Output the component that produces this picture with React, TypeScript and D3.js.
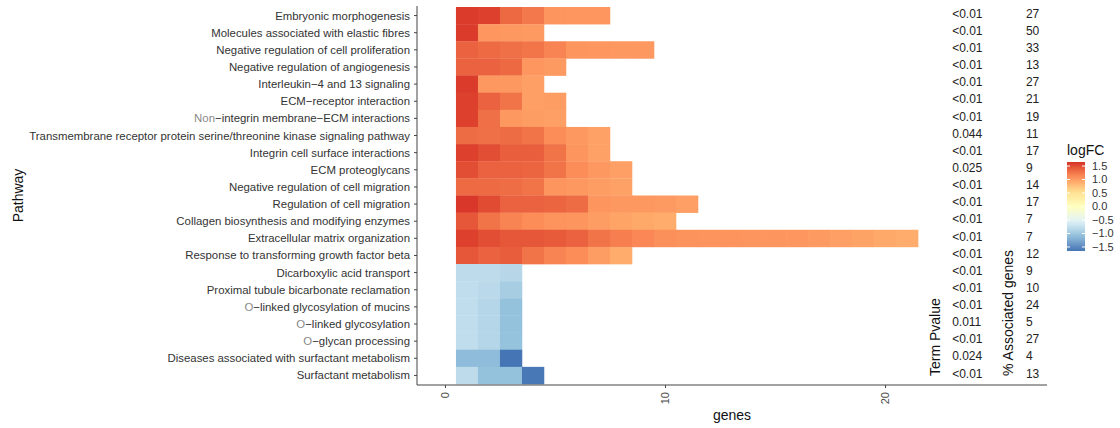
import { useRef, useEffect } from "react";
import * as d3 from "d3";

// pathways, top to bottom
const pathways = [
  "Embryonic morphogenesis",
  "Molecules associated with elastic fibres",
  "Negative regulation of cell proliferation",
  "Negative regulation of angiogenesis",
  "Interleukin−4 and 13 signaling",
  "ECM−receptor interaction",
  "Non−integrin membrane−ECM interactions",
  "Transmembrane receptor protein serine/threonine kinase signaling pathway",
  "Integrin cell surface interactions",
  "ECM proteoglycans",
  "Negative regulation of cell migration",
  "Regulation of cell migration",
  "Collagen biosynthesis and modifying enzymes",
  "Extracellular matrix organization",
  "Response to transforming growth factor beta",
  "Dicarboxylic acid transport",
  "Proximal tubule bicarbonate reclamation",
  "O−linked glycosylation of mucins",
  "O−linked glycosylation",
  "O−glycan processing",
  "Diseases associated with surfactant metabolism",
  "Surfactant metabolism",
];

// logFC of each gene in the pathway, one tile per gene
const geneLogFC = [
  [1.6, 1.57, 1.34, 1.24, 1.05, 1.04, 1.04],
  [1.6, 1.04, 1.03, 1.02],
  [1.38, 1.33, 1.3, 1.26, 1.16, 1.05, 1.04, 1.03, 1.03],
  [1.38, 1.38, 1.34, 1.04, 1.02],
  [1.6, 1.03, 1.03, 0.98],
  [1.57, 1.38, 1.27, 0.98, 1.0],
  [1.57, 1.3, 1.03, 1.0, 0.98],
  [1.32, 1.3, 1.32, 1.27, 1.1, 1.03, 0.97],
  [1.57, 1.5, 1.4, 1.4, 1.27, 1.05, 0.97],
  [1.5, 1.38, 1.38, 1.36, 1.27, 1.1, 1.03, 0.98],
  [1.33, 1.33, 1.31, 1.27, 1.05, 1.03, 1.0, 0.97],
  [1.62, 1.52, 1.38, 1.38, 1.36, 1.32, 1.05, 1.03, 1.03, 1.02, 0.98],
  [1.45, 1.27, 1.16, 1.1, 1.06, 1.05, 1.0, 0.95, 0.92, 0.9],
  [1.57, 1.5, 1.45, 1.45, 1.43, 1.38, 1.27, 1.2, 1.14, 1.08, 1.07, 1.06, 1.06, 1.05, 1.05, 1.04, 1.02, 0.98, 0.96, 0.92, 0.9],
  [1.45, 1.38, 1.41, 1.27, 1.16, 1.1, 1.0, 0.9],
  [-0.8, -0.8, -0.84],
  [-0.78, -0.82, -0.95],
  [-0.78, -0.85, -1.08],
  [-0.78, -0.85, -1.08],
  [-0.78, -0.85, -1.07],
  [-1.12, -1.12, -1.65],
  [-0.8, -1.08, -1.08, -1.63],
];

const termPvalue = [
  "<0.01", "<0.01", "<0.01", "<0.01", "<0.01", "<0.01", "<0.01", "0.044",
  "<0.01", "0.025", "<0.01", "<0.01", "<0.01", "<0.01", "<0.01", "<0.01",
  "<0.01", "<0.01", "0.011", "<0.01", "0.024", "<0.01",
];

const associatedPct = [27, 50, 33, 13, 27, 21, 19, 11, 17, 9, 14, 17, 7, 7, 12, 9, 10, 24, 5, 27, 4, 13];

const xTicks = [0, 10, 20];
const legendTicks = [1.5, 1.0, 0.5, 0.0, -0.5, -1.0, -1.5];

const FONT = "'Liberation Sans', Arial, Helvetica, sans-serif";

const App = () => {
  const svgRef = useRef<SVGSVGElement>(null);

  useEffect(() => {
    const svg = d3.select(svgRef.current);
    svg.selectAll("*").remove();

    const width = 1120;
    const height = 428;
    svg.attr("width", width).attr("height", height).style("font-family", FONT);

    const panel = { left: 417, right: 1047, top: 6, bottom: 385 };

    const x = d3.scaleLinear().domain([-1.27, 27.36]).range([panel.left, panel.right]);
    const y = d3.scaleBand().domain(pathways).range([7, 384]);

    const colorDomain = [1.65, 1.1, 0.55, 0, -0.55, -1.1, -1.65];
    const color = d3
      .scaleLinear<string>()
      .domain(colorDomain)
      .range(d3.schemeRdYlBu[7] as string[])
      .interpolate(d3.interpolateLab);

    // tiles
    const tiles = pathways.flatMap((p, i) =>
      geneLogFC[i].map((v, j) => ({ pathway: p, gene: j + 1, logFC: v }))
    );

    svg
      .append("g")
      .selectAll("rect")
      .data(tiles)
      .join("rect")
      .attr("x", (d) => x(d.gene - 0.5))
      .attr("y", (d) => y(d.pathway)!)
      .attr("width", x(1) - x(0) + 0.3)
      .attr("height", y.bandwidth() + 0.3)
      .attr("fill", (d) => color(d.logFC));

    // axes
    const axisColor = "#444";
    const xAxis = svg
      .append("g")
      .attr("transform", `translate(0, ${panel.bottom})`)
      .call(d3.axisBottom(x).tickValues(xTicks).tickSize(3).tickSizeOuter(0));
    xAxis.select(".domain").attr("stroke", axisColor).attr("d", `M${panel.left},0H${panel.right}`);
    xAxis.selectAll(".tick line").attr("stroke", axisColor);
    xAxis
      .selectAll(".tick text")
      .attr("transform", "rotate(-90)")
      .attr("text-anchor", "end")
      .attr("x", -7)
      .attr("y", 0)
      .attr("dy", "0.35em")
      .attr("fill", "#4d4d4d")
      .style("font-family", FONT)
      .style("font-size", "11px");

    const yAxis = svg
      .append("g")
      .attr("transform", `translate(${panel.left}, 0)`)
      .call(d3.axisLeft(y).tickSize(3).tickSizeOuter(0).tickFormat(() => ""));
    yAxis.select(".domain").attr("stroke", axisColor).attr("d", `M0,${panel.top}V${panel.bottom}`);
    yAxis.selectAll(".tick line").attr("stroke", axisColor);

    // y labels, with the grey first word some of them have in the figure
    const labels = svg.append("g").style("font-size", "11.4px");
    pathways.forEach((p) => {
      const t = labels
        .append("text")
        .attr("x", panel.left - 7)
        .attr("y", y(p)! + y.bandwidth() / 2)
        .attr("dy", "0.35em")
        .attr("text-anchor", "end")
        .attr("fill", "#333");
      const m = p.match(/^(Non|O)(−.*)$/);
      if (m) {
        t.append("tspan").attr("fill", "#888").text(m[1]);
        t.append("tspan").text(m[2]);
      } else {
        t.text(p);
      }
    });

    // table columns
    const table = svg.append("g").style("font-size", "12px").attr("fill", "#222");
    table
      .selectAll(".pval")
      .data(pathways)
      .join("text")
      .attr("class", "pval")
      .attr("x", x(23.05))
      .attr("y", (d) => y(d)! + y.bandwidth() / 2 - 2)
      .attr("dy", "0.35em")
      .text((d, i) => termPvalue[i]);
    table
      .selectAll(".pct")
      .data(pathways)
      .join("text")
      .attr("class", "pct")
      .attr("x", x(26.4))
      .attr("y", (d) => y(d)! + y.bandwidth() / 2 - 2)
      .attr("dy", "0.35em")
      .text((d, i) => associatedPct[i]);

    const colTitles = [
      { label: "Term Pvalue", at: 22.27 },
      { label: "% Associated genes", at: 25.6 },
    ];
    svg
      .append("g")
      .selectAll("text")
      .data(colTitles)
      .join("text")
      .attr("transform", (d) => `translate(${x(d.at)}, 376) rotate(-90)`)
      .attr("dy", "0.35em")
      .attr("text-anchor", "start")
      .attr("fill", "#111")
      .style("font-size", "14px")
      .text((d) => d.label);

    // axis titles
    svg
      .append("text")
      .attr("x", (panel.left + panel.right) / 2)
      .attr("y", 420)
      .attr("text-anchor", "middle")
      .attr("fill", "#111")
      .style("font-size", "14px")
      .text("genes");
    svg
      .append("text")
      .attr("transform", `translate(18, ${(panel.top + panel.bottom) / 2}) rotate(-90)`)
      .attr("dy", "0.35em")
      .attr("text-anchor", "middle")
      .attr("fill", "#111")
      .style("font-size", "14px")
      .text("Pathway");

    // legend
    const bar = { x: 1067, y: 162, w: 18, h: 89 };
    const ly = d3.scaleLinear().domain([1.65, -1.65]).range([bar.y, bar.y + bar.h]);
    const defs = svg.append("defs");
    const grad = defs
      .append("linearGradient")
      .attr("id", "logfc-grad")
      .attr("x1", 0)
      .attr("x2", 0)
      .attr("y1", 0)
      .attr("y2", 1);
    d3.range(0, 1.0001, 0.05).forEach((t) => {
      grad
        .append("stop")
        .attr("offset", t)
        .attr("stop-color", color(1.65 - t * 3.3));
    });
    const legend = svg.append("g");
    legend
      .append("text")
      .attr("x", bar.x)
      .attr("y", 155)
      .attr("fill", "#111")
      .style("font-size", "14px")
      .text("logFC");
    legend
      .append("rect")
      .attr("x", bar.x)
      .attr("y", bar.y)
      .attr("width", bar.w)
      .attr("height", bar.h)
      .attr("fill", "url(#logfc-grad)");
    legend
      .selectAll(".lt")
      .data(legendTicks)
      .join("g")
      .attr("class", "lt")
      .each(function (v) {
        const g = d3.select(this);
        const yy = ly(v);
        g.append("line").attr("x1", bar.x).attr("x2", bar.x + 3).attr("y1", yy).attr("y2", yy).attr("stroke", "white");
        g.append("line").attr("x1", bar.x + bar.w - 3).attr("x2", bar.x + bar.w).attr("y1", yy).attr("y2", yy).attr("stroke", "white");
        g.append("text")
          .attr("x", bar.x + bar.w + 7)
          .attr("y", yy)
          .attr("dy", "0.35em")
          .attr("fill", "#333")
          .style("font-size", "11px")
          .text(d3.format(".1f")(v).replace("-", "−"));
      });
  }, []);

  return (
    <div style={{ position: "absolute", left: 0, top: 0 }}>
      <svg ref={svgRef}></svg>
    </div>
  );
};

export default App;
